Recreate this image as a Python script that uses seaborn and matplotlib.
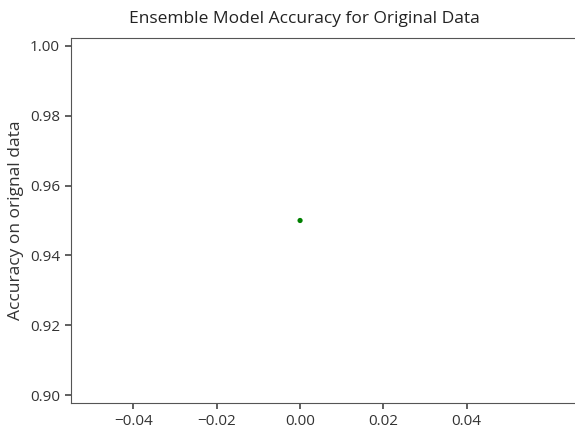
import matplotlib
matplotlib.use("Agg")
import matplotlib.pyplot as plt
import seaborn as sns
from matplotlib.ticker import FixedLocator

# data
model_index = [0]
accuracy = [0.95]
x_ticks = [-0.04, -0.02, 0.00, 0.02, 0.04]

plt.rcParams['font.family'] = ['Open Sans', 'DejaVu Sans']

fig = plt.figure(figsize=(5.75, 4.32), dpi=100)
ax = fig.add_axes([0.1235, 0.0671, 0.88, 0.845])

sns.scatterplot(x=model_index, y=accuracy, color='green', s=14, edgecolor='none', ax=ax)

ax.set_xlim(-0.055, 0.0665)
ax.xaxis.set_major_locator(FixedLocator(x_ticks))
ax.set_ylim(0.89775, 1.00225)
ax.set_yticks([0.90, 0.92, 0.94, 0.96, 0.98, 1.00])

ax.set_title('Ensemble Model Accuracy for Original Data', fontsize=12.5,
             x=0.462, pad=11, color='#222222')
ax.set_ylabel('Accuracy on orignal data', fontsize=12.5, color='#333333', labelpad=4)
ax.tick_params(axis='both', which='major', bottom=True, left=True, direction='out',
               labelsize=11, labelcolor='#333333', color='#444444', length=4.5, width=1.2)
for s in ax.spines.values():
    s.set_color('#555555')

fig.savefig('out.png', dpi=100)
